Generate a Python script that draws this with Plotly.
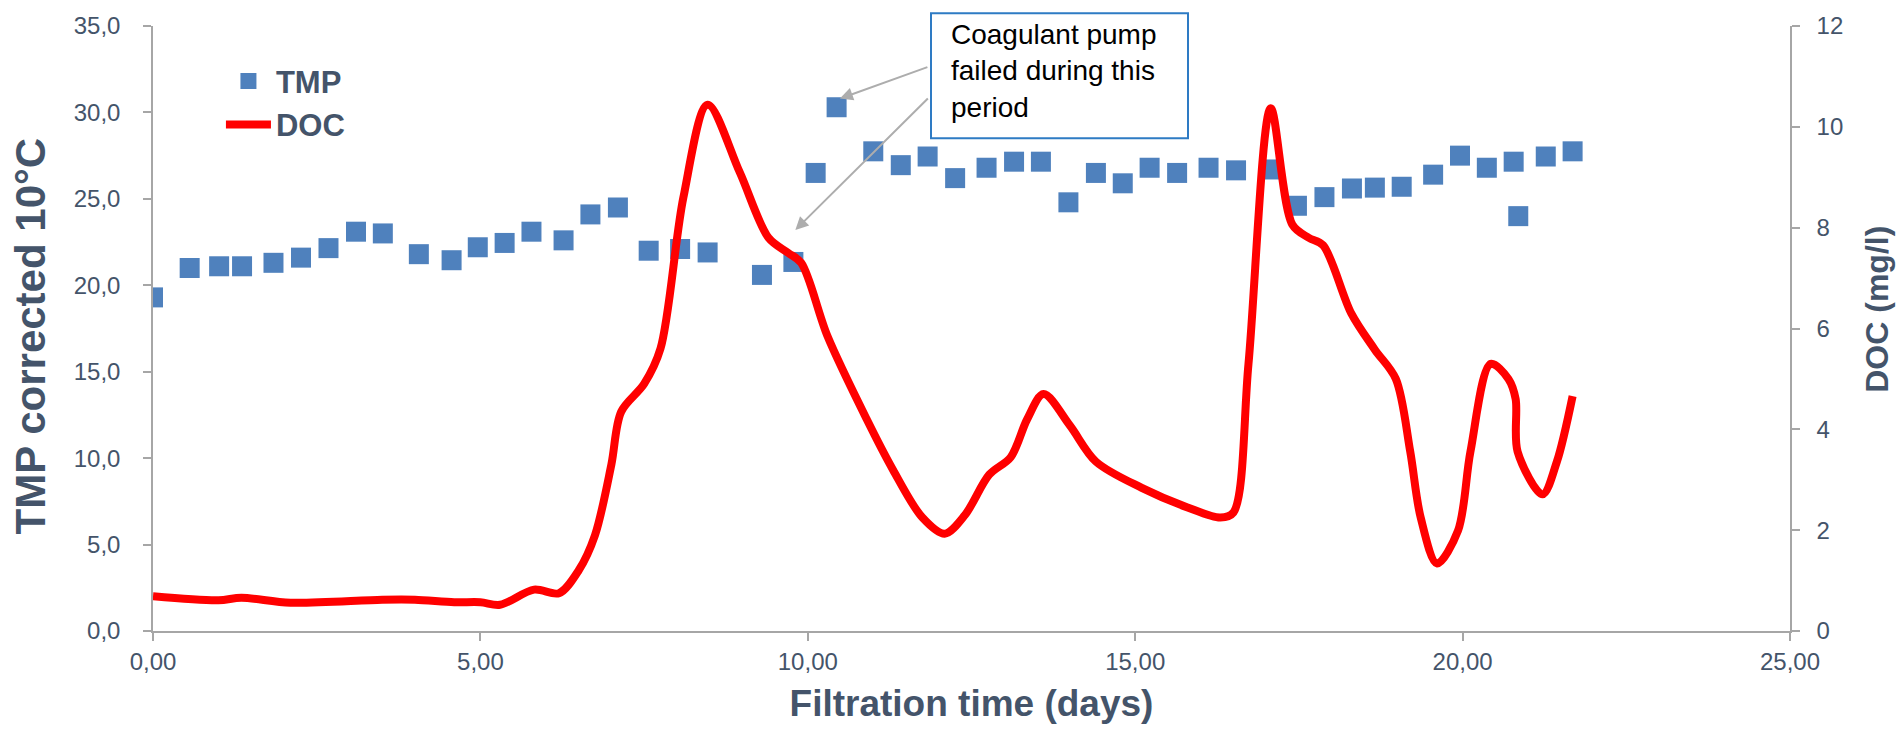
import plotly.graph_objects as go

# ---- data ----
tmp_days = [0.00, 0.56, 1.01, 1.36, 1.84, 2.26, 2.68, 3.10, 3.51, 4.06, 4.56, 4.96, 5.37, 5.78,
            6.27, 6.68, 7.10, 7.57, 8.05, 8.47, 9.30, 9.78, 10.12, 10.44, 11.00, 11.42, 11.83,
            12.25, 12.73, 13.15, 13.56, 13.98, 14.40, 14.81, 15.22, 15.64, 16.12, 16.54, 17.07,
            17.47, 17.89, 18.31, 18.66, 19.07, 19.55, 19.96, 20.37, 20.78, 20.85, 21.27, 21.68]
tmp_values = [19.3, 21.0, 21.1, 21.1, 21.3, 21.6, 22.15, 23.1, 23.0, 21.8, 21.45, 22.2, 22.45, 23.1,
              22.6, 24.1, 24.5, 22.0, 22.1, 21.9, 20.6, 21.35, 26.5, 30.3, 27.75, 26.95, 27.45,
              26.2, 26.8, 27.15, 27.15, 24.8, 26.5, 25.9, 26.8, 26.5, 26.8, 26.65, 26.7,
              24.6, 25.1, 25.6, 25.65, 25.7, 26.4, 27.5, 26.8, 27.15, 24.0, 27.45, 27.75]

doc_days = [0.0, 1.0, 1.35, 2.1, 3.5, 4.0, 4.6, 5.0, 5.3, 5.82, 6.2, 6.5, 6.75, 7.0, 7.15, 7.5,
            7.75, 8.1, 8.47, 8.96, 9.4, 9.7, 9.9, 10.3, 10.9, 11.3, 11.75, 12.09, 12.4, 12.77,
            13.1, 13.35, 13.6, 14.0, 14.4, 15.1, 15.8, 16.3, 16.5, 16.73, 17.07, 17.4, 17.65,
            17.87, 18.3, 18.66, 18.98, 19.2, 19.36, 19.61, 19.93, 20.12, 20.43, 20.7, 20.81,
            20.84, 21.22, 21.44, 21.68]
doc_values = [0.69, 0.61, 0.66, 0.56, 0.62, 0.62, 0.57, 0.57, 0.52, 0.82, 0.75, 1.2, 1.9, 3.3, 4.35, 4.9,
              5.6, 8.6, 10.44, 9.1, 7.8, 7.5, 7.3, 5.85, 4.2, 3.2, 2.25, 1.93, 2.3, 3.1,
              3.45, 4.2, 4.7, 4.08, 3.36, 2.84, 2.45, 2.25, 2.35, 5.3, 10.37, 8.06, 7.8,
              7.65, 6.3, 5.58, 5.0, 3.56, 2.25, 1.34, 1.99, 3.56, 5.3, 5.0, 4.6,
              3.56, 2.71, 3.36, 4.66]

x_ticks = [0, 5, 10, 15, 20, 25]
y_ticks = [0, 5, 10, 15, 20, 25, 30, 35]
y2_ticks = [0, 2, 4, 6, 8, 10, 12]

TXT = "#44546A"
AX = "#A6A6A6"
FONT = "Arial, Liberation Sans, sans-serif"

# plot-area geometry (px) used for paper-coordinate placement of text
L, R, T, B = 153, 1790, 18, 632
W, H = R - L, B - T


def px(xp):
    return (xp - L) / W


def py(yp):
    return (B - yp) / H


fig = go.Figure()
fig.add_trace(go.Scatter(x=tmp_days, y=tmp_values, mode="markers", name="TMP",
                         marker=dict(symbol="square", size=20, color="#4F81BD"), yaxis="y"))
fig.add_trace(go.Scatter(x=doc_days, y=doc_values, mode="lines", name="DOC",
                         line=dict(color="#FF0000", width=8, shape="spline", smoothing=0.9),
                         yaxis="y2"))

axis_common = dict(showline=True, linecolor=AX, linewidth=1.5, ticks="outside", ticklen=8,
                   tickcolor=AX, tickwidth=1.5, showgrid=False, zeroline=False,
                   tickfont=dict(family=FONT, size=24, color=TXT))

fig.update_layout(
    width=1901, height=729,
    margin=dict(l=L, r=1901 - R, t=T, b=729 - B),
    paper_bgcolor="white", plot_bgcolor="white",
    separators=", ",
    font=dict(family=FONT, color=TXT),
    xaxis=dict(range=[0, 25], tickvals=x_ticks, tickformat=".2f",
               title=dict(text="<b>Filtration time (days)</b>", standoff=17,
                          font=dict(family=FONT, size=37, color=TXT)),
               **axis_common),
    yaxis=dict(range=[0, 35], tickvals=y_ticks, tickformat=".1f", ticklabelstandoff=18,
               **axis_common),
    yaxis2=dict(range=[0, 12], tickvals=y2_ticks, overlaying="y", side="right",
                ticklabelstandoff=12, **axis_common),
    showlegend=True,
    legend=dict(x=0.0415, y=0.953, xanchor="left", yanchor="top", bgcolor="rgba(0,0,0,0)",
                itemwidth=45,
                font=dict(family=FONT, size=31, color=TXT, weight="bold")),
)

# axis titles (placed as in the reference)
fig.add_annotation(xref="paper", yref="paper", x=px(30), y=py(333), textangle=-90,
                   xanchor="center", yanchor="middle", showarrow=False,
                   text="<b>TMP corrected 10°C</b>", font=dict(family=FONT, size=42, color=TXT))
fig.add_annotation(xref="paper", yref="paper", x=px(1877), y=py(306), textangle=-90,
                   xanchor="center", yanchor="middle", showarrow=False,
                   text="<b>DOC (mg/l)</b>", font=dict(family=FONT, size=32, color=TXT))

# annotation box (shape) + text
fig.add_shape(type="rect", xref="paper", yref="paper",
              x0=px(931), x1=px(1188), y0=py(132), y1=py(5),
              line=dict(color="#2E7BC4", width=2), fillcolor="white", layer="above")
fig.add_annotation(xref="paper", yref="paper", x=px(949), y=py(64),
                   xanchor="left", yanchor="middle", align="left", showarrow=False,
                   text="Coagulant pump<br>failed during this<br>period",
                   font=dict(family=FONT, size=28, color="#000000"))
# arrows
fig.add_annotation(x=10.49, y=30.8, xref="x", yref="y", text="", showarrow=True,
                   ax=89, ay=-32, arrowhead=2, arrowsize=1.3, arrowwidth=2, arrowcolor="#ADADAD")
fig.add_annotation(x=9.81, y=23.2, xref="x", yref="y", text="", showarrow=True,
                   ax=134, ay=-133, arrowhead=2, arrowsize=1.3, arrowwidth=2, arrowcolor="#ADADAD")

fig.write_html("out.html")
